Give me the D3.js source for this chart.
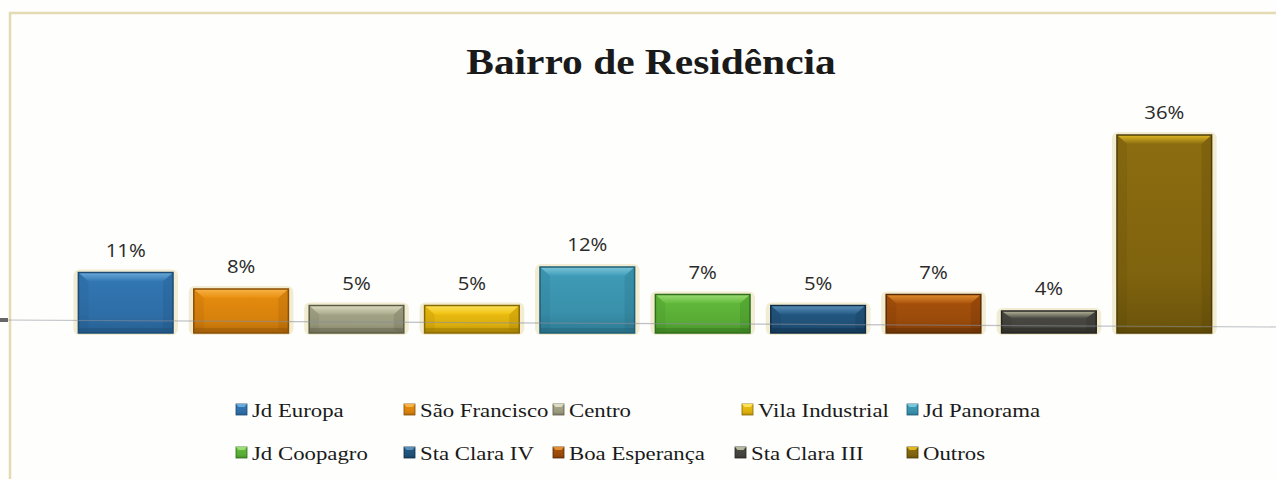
<!DOCTYPE html>
<html>
<head>
<meta charset="utf-8">
<script src="https://cdn.jsdelivr.net/npm/d3@7"></script>
<style>
  html, body { margin: 0; padding: 0; background: #fefefc; }
  svg { display: block; }
</style>
</head>
<body>
<svg id="chart" width="1276" height="479"></svg>
<script>
// ---- data ----
const title = "Bairro de Residência";
const categories = ["Jd Europa", "São Francisco", "Centro", "Vila Industrial", "Jd Panorama",
                    "Jd Coopagro", "Sta Clara IV", "Boa Esperança", "Sta Clara III", "Outros"];
const values = [11, 8, 5, 5, 12, 7, 5, 7, 4, 36];
const valueLabels = ["11%", "8%", "5%", "5%", "12%", "7%", "5%", "7%", "4%", "36%"];

// ---- styles ----
const mainColors  = ["#3277b4", "#e98e0e", "#a9a98c", "#f0c010", "#3f9cb8", "#62bb3c", "#245a84", "#a9520c", "#4b4a44", "#8c6d10"];
const lightColors = ["#6aaad8", "#f7b448", "#dcdcc0", "#fbe258", "#7cc6da", "#9cdc74", "#5a90b8", "#e2902f", "#b8b89c", "#e0b822"];
const darkColors  = ["#1d4b74", "#8a4e05", "#5c5c46", "#8a6a00", "#1f5e74", "#2f6e1a", "#0f2d47", "#5a2a04", "#262520", "#4e3d06"];

// legend layout (two rows of five)
const legendX = [236, 404, 553, 742, 907, 236, 404, 553, 735, 907];
const legendRowY = [417, 460];
const stretch = 1.15; // horizontal stretch of the scanned original

const svg = d3.select("#chart");
const defs = svg.append("defs");

// frame
svg.append("path")
  .attr("d", "M10,479 L10,13 L1276,13")
  .attr("fill", "none").attr("stroke", "#e2dbb4").attr("stroke-width", 2.5);

// scales
const x = d3.scaleBand().domain(categories).range([68, 1222]).paddingInner(0.18).paddingOuter(0.09);
const y = d3.scaleLinear().domain([0, 36]).range([333, 135]);

// gradients
categories.forEach((c, i) => {
  const g = defs.append("linearGradient").attr("id", "grad" + i)
    .attr("x1", 0).attr("y1", 0).attr("x2", 0).attr("y2", 1);
  g.append("stop").attr("offset", "0%").attr("stop-color", mainColors[i]);
  g.append("stop").attr("offset", "70%").attr("stop-color", d3.interpolateRgb(mainColors[i], darkColors[i])(0.2));
  g.append("stop").attr("offset", "100%").attr("stop-color", d3.interpolateRgb(mainColors[i], darkColors[i])(0.55));
  const gl = defs.append("linearGradient").attr("id", "lgrad" + i)
    .attr("x1", 0).attr("y1", 0).attr("x2", 0).attr("y2", 1);
  gl.append("stop").attr("offset", "0%").attr("stop-color", lightColors[i]);
  gl.append("stop").attr("offset", "100%").attr("stop-color", mainColors[i]);
});

// title
svg.append("text")
  .attr("transform", `translate(651,74) scale(${stretch},1)`)
  .attr("text-anchor", "middle")
  .attr("font-family", "'Liberation Serif', 'Times New Roman', serif")
  .attr("font-weight", "bold").attr("font-size", 36).attr("fill", "#1a1a1a")
  .text(title);

// bars
const bars = svg.append("g").selectAll("g.bar").data(categories).join("g").attr("class", "bar");
const bw = x.bandwidth();
bars.each(function (c, i) {
  const g = d3.select(this);
  const x0 = x(c), top = y(values[i]), bot = y(0), h = bot - top;
  // pale halo
  g.append("rect").attr("x", x0 - 5).attr("y", top - 3).attr("width", bw + 10).attr("height", h + 5)
    .attr("rx", 6).attr("fill", "#f1ecd2");
  // body
  g.append("rect").attr("x", x0).attr("y", top).attr("width", bw).attr("height", h)
    .attr("fill", `url(#grad${i})`);
  const bev = Math.min(9, h / 3);
  // top bevel
  g.append("path")
    .attr("d", `M${x0},${top} L${x0 + bw},${top} L${x0 + bw - 10},${top + bev} L${x0 + 10},${top + bev} Z`)
    .attr("fill", `url(#lgrad${i})`);
  // side bevels (subtle)
  g.append("path")
    .attr("d", `M${x0},${top} L${x0 + 10},${top + bev} L${x0 + 10},${bot - 3} L${x0},${bot} Z`)
    .attr("fill", darkColors[i]).attr("opacity", 0.12);
  g.append("path")
    .attr("d", `M${x0 + bw},${top} L${x0 + bw - 10},${top + bev} L${x0 + bw - 10},${bot - 3} L${x0 + bw},${bot} Z`)
    .attr("fill", darkColors[i]).attr("opacity", 0.2);
  // bottom darker strip
  g.append("rect").attr("x", x0).attr("y", bot - 5).attr("width", bw).attr("height", 5)
    .attr("fill", darkColors[i]).attr("opacity", 0.35);
  // outline
  g.append("rect").attr("x", x0).attr("y", top).attr("width", bw).attr("height", h)
    .attr("fill", "none").attr("stroke", darkColors[i]).attr("stroke-width", 1.5);
});

// floor line across the plot
svg.append("line").attr("x1", 0).attr("x2", 1276).attr("y1", 320).attr("y2", 327)
  .attr("stroke", "#8a8f9a").attr("stroke-width", 1.2).attr("opacity", 0.55);
svg.append("path").attr("d", "M0,318 L8,318 L8,322 L0,322 Z").attr("fill", "#666");

// value labels
svg.append("g").selectAll("text").data(categories).join("text")
  .attr("transform", (c, i) => `translate(${x(c) + bw / 2},${y(values[i]) - 16}) scale(1.07,1)`)
  .attr("text-anchor", "middle")
  .attr("font-family", "'Open Sans', 'Liberation Sans', sans-serif")
  .attr("font-size", 19).attr("fill", "#2a2a2a")
  .text((c, i) => valueLabels[i]);

// legend
const leg = svg.append("g").selectAll("g").data(categories).join("g")
  .attr("transform", (c, i) => `translate(${legendX[i]},${legendRowY[Math.floor(i / 5)]})`);
leg.append("rect").attr("x", 0).attr("y", -13).attr("width", 11).attr("height", 11)
  .attr("fill", (c, i) => `url(#grad${i})`).attr("stroke", (c, i) => darkColors[i]).attr("stroke-width", 0.8);
leg.append("path").attr("d", "M0,-13 L11,-13 L8.5,-10 L2.5,-10 Z").attr("fill", (c, i) => lightColors[i]);
leg.append("text")
  .attr("transform", `translate(16,0) scale(1.2,1)`)
  .attr("font-family", "'Liberation Serif', 'Times New Roman', serif")
  .attr("font-size", 19).attr("fill", "#1a1a1a")
  .text(c => c);
</script>
</body>
</html>
